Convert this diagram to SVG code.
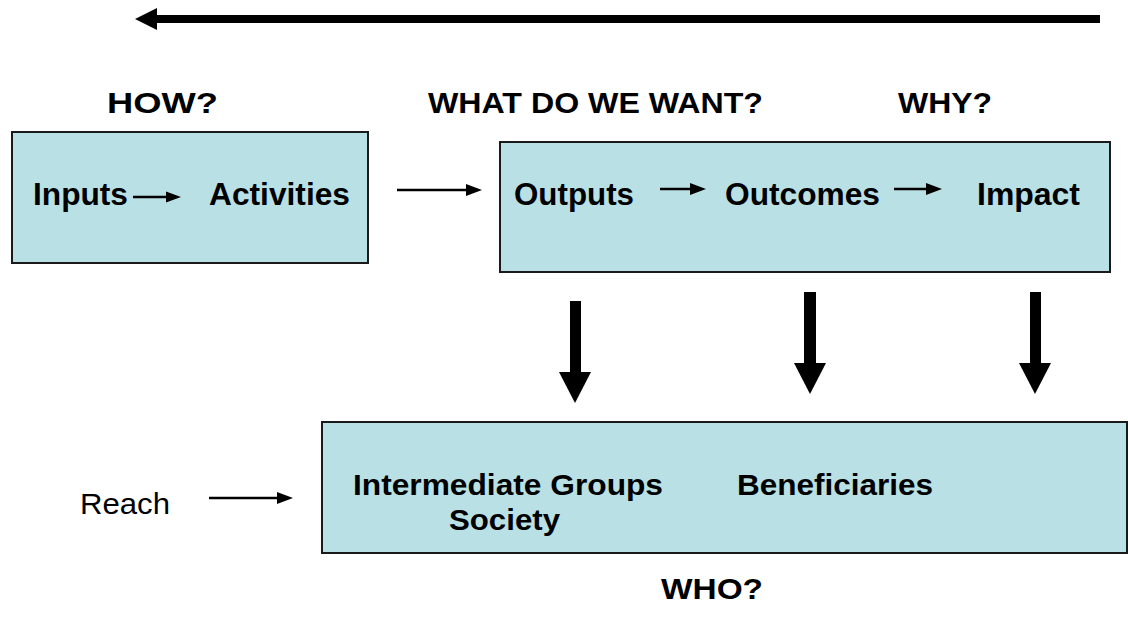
<svg xmlns="http://www.w3.org/2000/svg" width="1128" height="631" viewBox="0 0 1128 631">
  <style>
    .box { fill: #b9e0e4; stroke: #1a1a1a; stroke-width: 2; }
    .lbl { font-family: "Liberation Sans", Arial, sans-serif; font-weight: bold; font-size: 30px; fill: #000; }
    .big { font-size: 31px; }
    .plain { font-family: "Liberation Sans", Arial, sans-serif; font-size: 29px; fill: #000; }
    .thin { stroke: #000; stroke-width: 2.5; fill: none; }
    .head { fill: #000; }
  </style>

  <!-- direction of reasoning: right to left -->
  <g id="direction-arrow">
    <rect x="155" y="15" width="945" height="8" fill="#000"/>
    <polygon points="135,19 157,8 157,30" fill="#000"/>
  </g>

  <!-- question headings -->
  <g id="headings">
    <text class="lbl" x="107" y="113" textLength="111" lengthAdjust="spacingAndGlyphs">HOW?</text>
    <text class="lbl" x="428" y="113" textLength="335" lengthAdjust="spacingAndGlyphs">WHAT DO WE WANT?</text>
    <text class="lbl" x="898" y="113" textLength="94" lengthAdjust="spacingAndGlyphs">WHY?</text>
    <text class="lbl" x="661" y="599" textLength="102" lengthAdjust="spacingAndGlyphs">WHO?</text>
  </g>

  <!-- how: inputs and activities -->
  <g id="node-how">
    <rect class="box" x="12" y="132" width="356" height="131"/>
    <text class="lbl big" x="33" y="205" textLength="95" lengthAdjust="spacingAndGlyphs">Inputs</text>
    <text class="lbl big" x="209" y="205" textLength="141" lengthAdjust="spacingAndGlyphs">Activities</text>
  </g>

  <!-- what / why: outputs, outcomes, impact -->
  <g id="node-what">
    <rect class="box" x="500" y="142" width="610" height="130"/>
    <text class="lbl big" x="514" y="205" textLength="120" lengthAdjust="spacingAndGlyphs">Outputs</text>
    <text class="lbl big" x="725" y="205" textLength="155" lengthAdjust="spacingAndGlyphs">Outcomes</text>
    <text class="lbl big" x="977" y="205" textLength="103" lengthAdjust="spacingAndGlyphs">Impact</text>
  </g>

  <!-- who: groups reached -->
  <g id="node-who">
    <rect class="box" x="322" y="422" width="805" height="131"/>
    <text class="lbl" x="353" y="495" textLength="310" lengthAdjust="spacingAndGlyphs">Intermediate Groups</text>
    <text class="lbl" x="449" y="530" textLength="111" lengthAdjust="spacingAndGlyphs">Society</text>
    <text class="lbl" x="737" y="495" textLength="196" lengthAdjust="spacingAndGlyphs">Beneficiaries</text>
  </g>

  <g id="label-reach">
    <text class="plain" x="80" y="514" textLength="90" lengthAdjust="spacingAndGlyphs">Reach</text>
  </g>

  <!-- connectors -->
  <g id="connectors">
    <!-- inputs to activities -->
    <line class="thin" x1="133" y1="197" x2="168" y2="197"/>
    <polygon class="head" points="181,197 166,191.5 166,202.5"/>
    <!-- activities to outputs -->
    <line class="thin" x1="397" y1="190" x2="468" y2="190"/>
    <polygon class="head" points="482,190 466,184 466,196"/>
    <!-- outputs to outcomes -->
    <line class="thin" x1="660" y1="189" x2="692" y2="189"/>
    <polygon class="head" points="706,189 690,183 690,195"/>
    <!-- outcomes to impact -->
    <line class="thin" x1="894" y1="189" x2="928" y2="189"/>
    <polygon class="head" points="942,189 926,183 926,195"/>
    <!-- reach into groups -->
    <line class="thin" x1="209" y1="498" x2="279" y2="498"/>
    <polygon class="head" points="293,498 277,492 277,504"/>

    <!-- heavy down arrows -->
    <rect x="570" y="301" width="11" height="72" fill="#000"/>
    <polygon points="559,372 591,372 575,403" fill="#000"/>
    <rect x="804" y="292" width="12" height="72" fill="#000"/>
    <polygon points="794,363 826,363 810,394" fill="#000"/>
    <rect x="1030" y="292" width="11" height="72" fill="#000"/>
    <polygon points="1019,363 1051,363 1035,394" fill="#000"/>
  </g>
</svg>
